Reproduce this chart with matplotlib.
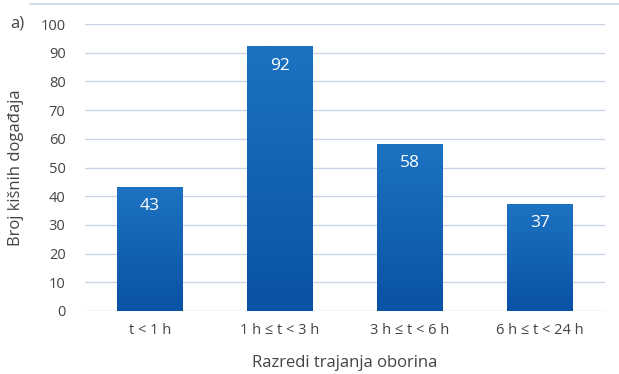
import matplotlib.pyplot as plt
import numpy as np
from matplotlib.colors import LinearSegmentedColormap

categories = ["t < 1 h", "1 h \u2264 t < 3 h", "3 h \u2264 t < 6 h", "6 h \u2264 t < 24 h"]
counts = [43, 92, 58, 37]
y_ticks = list(range(0, 101, 10))

TEXT = "#444444"
GRID = "#c9d5e5"

plt.rcParams["font.family"] = ["Open Sans", "DejaVu Sans"]

fig = plt.figure(figsize=(6.19, 3.74), dpi=100)
ax = fig.add_axes([85 / 619, 1 - 311 / 374, 520 / 619, 287 / 374])

x = np.arange(len(categories))
bars = ax.bar(x, counts, width=0.505, color="none", edgecolor="none", zorder=3)

# vertical gradient fill per bar
cmap = LinearSegmentedColormap.from_list("barblue", ["#0a52a3", "#1d72c2"])
grad = np.linspace(0, 1, 256).reshape(-1, 1)
for b in bars:
    x0, y0 = b.get_x(), b.get_y()
    w, h = b.get_width(), b.get_height()
    ax.imshow(grad, cmap=cmap, origin="lower", aspect="auto",
              extent=[x0, x0 + w, y0, y0 + h], zorder=3)
    ax.text(x0 + w / 2, y0 + h - 6.5, f"{int(h)}", ha="center", va="center",
            color="white", fontsize=12.5, zorder=5)

ax.set_xlim(-0.5, len(categories) - 0.5)
ax.set_ylim(0, 100)
ax.set_yticks(y_ticks)
ax.set_xticks(x)
ax.set_xticklabels(categories)
ax.yaxis.grid(True, color=GRID, lw=1.0, zorder=0)
ax.set_axisbelow(True)
for s in ax.spines.values():
    s.set_visible(False)
ax.tick_params(axis="both", length=0, colors=TEXT, labelsize=10.5)
ax.tick_params(axis="x", pad=9)
ax.tick_params(axis="y", pad=14)

ax.set_ylabel("Broj kišnih događaja", color=TEXT, fontsize=12, labelpad=12)
ax.set_xlabel("Razredi trajanja oborina", color=TEXT, fontsize=12, labelpad=12)

fig.text(10 / 619, 1 - 23 / 374, "a)", color=TEXT, fontsize=12, va="center")
fig.add_artist(plt.Line2D([30 / 619, 1], [1 - 4 / 374, 1 - 4 / 374],
                          color=GRID, lw=1.2, transform=fig.transFigure))

fig.savefig("out.png", dpi=100)
